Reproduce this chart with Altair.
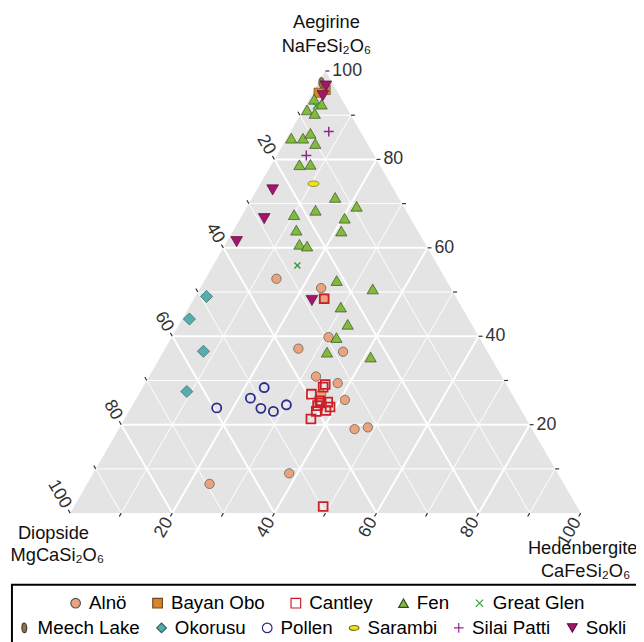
import math
import altair as alt
import pandas as pd

FONT = "Liberation Sans"
S3 = math.sqrt(3) / 2

# ---------------- data (ternary %: aegirine, hedenbergite; diopside = rest) -------------
sites = ["Alnö", "Bayan Obo", "Cantley", "Fen", "Great Glen",
         "Meech Lake", "Okorusu", "Pollen", "Sarambi", "Silai Patti", "Sokli"]

alno_aeg = [53.0, 50.9, 48.5, 39.8, 37.2, 36.5, 30.9, 29.4, 25.6, 26.9, 19.0, 19.4, 9.0, 6.6]
alno_hed = [13.9, 23.7, 25.5, 30.7, 26.1, 35.2, 32.7, 37.7, 41.0, 35.7, 46.2, 48.6, 38.4, 24.0]
bayan_aeg = [95.7, 95.1]
bayan_hed = [2.2, 1.1]
cantley_aeg = [48.5, 29.1, 28.5, 26.9, 25.4, 25.1, 24.3, 23.2, 23.0, 21.3, 24.9, 24.0, 1.5]
cantley_hed = [25.5, 35.4, 35.3, 33.8, 36.2, 37.9, 36.3, 38.5, 36.7, 36.5, 36.7, 38.9, 48.8]
fen_aeg = [93.6, 92.5, 91.2, 90.4, 84.8, 84.8, 85.9, 83.6, 78.8, 78.9, 71.4, 69.4, 68.5,
           67.5, 66.7, 64.0, 63.8, 60.8, 60.4, 52.6, 50.7, 46.6, 42.7, 39.7, 36.4, 35.3]
fen_hed = [1.0, 3.0, 0.8, 2.7, 0.9, 3.2, 4.1, 6.2, 5.5, 7.6, 16.2, 21.4, 13.8,
           10.1, 20.4, 12.3, 21.2, 14.5, 16.2, 25.9, 33.9, 29.7, 33.0, 32.3, 32.1, 41.2]
greatglen_aeg = [92.1, 56.0]
greatglen_hed = [2.1, 16.5]
meech_aeg = [97.4]
meech_hed = [0.5]
okorusu_aeg = [49.0, 43.9, 36.6, 27.5]
okorusu_hed = [2.2, 1.4, 7.8, 9.1]
pollen_aeg = [23.8, 26.0, 28.4, 23.7, 23.0, 24.5]
pollen_hed = [16.8, 22.3, 23.8, 25.5, 28.3, 30.1]
sarambi_aeg = [74.5]
sarambi_hed = [10.4]
silai_aeg = [86.3, 80.9]
silai_hed = [7.5, 5.8]
sokli_aeg = [96.6, 94.4, 73.1, 66.6, 61.4, 48.1]
sokli_hed = [1.8, 2.3, 3.1, 4.7, 1.9, 23.3]

tick_values = [20, 40, 60, 80, 100]

series = {
    "Alnö": (alno_aeg, alno_hed), "Bayan Obo": (bayan_aeg, bayan_hed),
    "Cantley": (cantley_aeg, cantley_hed), "Fen": (fen_aeg, fen_hed),
    "Great Glen": (greatglen_aeg, greatglen_hed), "Meech Lake": (meech_aeg, meech_hed),
    "Okorusu": (okorusu_aeg, okorusu_hed), "Pollen": (pollen_aeg, pollen_hed),
    "Sarambi": (sarambi_aeg, sarambi_hed), "Silai Patti": (silai_aeg, silai_hed),
    "Sokli": (sokli_aeg, sokli_hed),
}

# ---------------- styles -------------
fills = {"Alnö": "#E9A47E", "Bayan Obo": "#D9852B", "Cantley": "transparent", "Fen": "#80BB3E",
         "Great Glen": "transparent", "Meech Lake": "#8D7150", "Okorusu": "#55ADB0",
         "Pollen": "transparent", "Sarambi": "#F2E21C", "Silai Patti": "transparent",
         "Sokli": "#A3166A"}
strokes = {"Alnö": "#555555", "Bayan Obo": "#6b4a20", "Cantley": "#CC1F27", "Fen": "#3a4a20",
           "Great Glen": "#3C9A3C", "Meech Lake": "#4a3a28", "Okorusu": "#2f5f60",
           "Pollen": "#2B2A8E", "Sarambi": "#6b6a10", "Silai Patti": "#8C2A8C",
           "Sokli": "#5a0c3a"}
shapes = {"Alnö": "circle", "Bayan Obo": "square", "Cantley": "square", "Fen": "triangle-up",
          "Great Glen": "M-0.75,-0.75L0.75,0.75M-0.75,0.75L0.75,-0.75",
          "Meech Lake": "M0,-1A0.5,1,0,1,1,0,1A0.5,1,0,1,1,0,-1Z",
          "Okorusu": "diamond", "Pollen": "circle",
          "Sarambi": "M-1,0A1,0.5,0,1,1,1,0A1,0.5,0,1,1,-1,0Z",
          "Silai Patti": "M-1,0L1,0M0,-1L0,1", "Sokli": "triangle-down"}
stroke_w = {"Cantley": 1.8, "Pollen": 1.8, "Great Glen": 1.5, "Silai Patti": 1.5}
sizes = {"Alnö": 90, "Bayan Obo": 85, "Cantley": 80, "Fen": 130, "Great Glen": 65,
         "Meech Lake": 115, "Okorusu": 150, "Pollen": 85, "Sarambi": 125,
         "Silai Patti": 100, "Sokli": 140}


def chain(d, default):
    expr = str(default)
    for k, v in d.items():
        expr = f"datum.site === '{k}' ? {v} : ({expr})"
    return expr


rows = []
for s in sites:
    aa, hh = series[s]
    for a, h in zip(aa, hh):
        rows.append({"site": s, "aeg": a, "hed": h, "dio": round(100 - a - h, 1)})
df = pd.DataFrame(rows)

# ---------------- geometry / layout -------------
W, H = 636, 634
PX = 5.17          # pixels per ternary unit
OX, OY = 63, 507.5  # pixel position of the diopside corner
xs = alt.Scale(domain=[-OX / PX, (W - OX) / PX], nice=False, zero=False)
ys = alt.Scale(domain=[-(H - OY) / PX, OY / PX], nice=False, zero=False)


def tern(a, h):
    return h + a / 2.0, a * S3


def XY(fx="x", fy="y"):
    return dict(x=alt.X(f"{fx}:Q", scale=xs, axis=None), y=alt.Y(f"{fy}:Q", scale=ys, axis=None))


# triangle background
tri_pts = [tern(0, 0), tern(100, 0), tern(0, 100)]
tri_df = pd.DataFrame({"x": [p[0] for p in tri_pts], "y": [p[1] for p in tri_pts], "y0": [0, 0, 0]})
tri = alt.Chart(tri_df).mark_area(color="#E4E4E4", opacity=1, interpolate="linear").encode(
    **XY(), y2="y0:Q")

# grid lines
segs = []
for v in range(10, 100, 10):
    major = v % 20 == 0
    p1, p2 = tern(v, 0), tern(v, 100 - v)            # constant aegirine
    segs.append((p1, p2, major))
    p1, p2 = tern(0, v), tern(100 - v, v)            # constant hedenbergite
    segs.append((p1, p2, major))
    p1, p2 = tern(0, 100 - v), tern(100 - v, 0)      # constant diopside
    segs.append((p1, p2, major))
grid_df = pd.DataFrame([{"x1": a[0], "y1": a[1], "x2": b[0], "y2": b[1], "major": m} for a, b, m in segs])


def rules(data, color, width):
    return alt.Chart(data).mark_rule(color=color, strokeWidth=width).encode(
        x=alt.X("x1:Q", scale=xs, axis=None), y=alt.Y("y1:Q", scale=ys, axis=None),
        x2="x2:Q", y2="y2:Q")


grid_minor = rules(grid_df[~grid_df.major], "white", 1)
grid_major = rules(grid_df[grid_df.major], "white", 2)

# ticks
TL = 4 / PX
tk = []
for v in range(10, 101, 10):
    x, y = tern(v, 100 - v)                       # right side (aegirine)
    tk.append({"x1": x, "y1": y, "x2": x + TL, "y2": y})
    x, y = tern(100 - v, 0)                       # left side (diopside)
    tk.append({"x1": x, "y1": y, "x2": x - 0.5 * TL, "y2": y + S3 * TL})
    x, y = tern(0, v)                             # bottom (hedenbergite)
    tk.append({"x1": x, "y1": y, "x2": x - 0.5 * TL, "y2": y - S3 * TL})
ticks = rules(pd.DataFrame(tk), "#333333", 1.2)

# tick labels
LG = 7 / PX
r_lab, l_lab, b_lab = [], [], []
for v in tick_values:
    x, y = tern(v, 100 - v)
    r_lab.append({"x": x + LG, "y": y, "t": str(v)})
    x, y = tern(100 - v, 0)
    l_lab.append({"x": x - 0.5 * LG, "y": y + S3 * LG, "t": str(v)})
    x, y = tern(0, v)
    b_lab.append({"x": x - 0.5 * LG, "y": y - S3 * LG, "t": str(v)})

lab_kw = dict(font=FONT, fontSize=18, color="#333333", baseline="middle")
r_text = alt.Chart(pd.DataFrame(r_lab)).mark_text(align="left", **lab_kw).encode(**XY(), text="t:N")
l_text = alt.Chart(pd.DataFrame(l_lab)).mark_text(align="right", angle=60, **lab_kw).encode(**XY(), text="t:N")
b_text = alt.Chart(pd.DataFrame(b_lab)).mark_text(align="right", angle=300, **lab_kw).encode(**XY(), text="t:N")

# vertex titles
def vtitle(a, h, txt, dx, dy):
    x, y = tern(a, h)
    return alt.Chart(pd.DataFrame({"x": [x], "y": [y], "t": [txt]})).mark_text(
        font=FONT, fontSize=18.5, color="#111111", align="center", baseline="alphabetic",
        dx=dx, dy=dy).encode(**XY(), text="t:N")


titles = [
    vtitle(100, 0, "Aegirine", 1, -44),
    vtitle(100, 0, "NaFeSi₂O₆", 1, -19),
    vtitle(0, 0, "Diopside", -17, 26),
    vtitle(0, 0, "MgCaSi₂O₆", -13, 49),
    vtitle(0, 100, "Hedenbergite", 2, 41),
    vtitle(0, 100, "CaFeSi₂O₆", 5, 65),
]

# points with two legend rows
group1 = sites[:5]
group2 = sites[5:]
SW_EXPR = chain(stroke_w, 0.7)
SZ_EXPR = chain(sizes, 90)
LEG_SW = SW_EXPR.replace("datum.site", "datum.value")


def make_legend(cols, lx, ly, pad, enc):
    kw = dict(title=None, orient="none", legendX=lx, legendY=ly, direction="horizontal",
              columns=cols, columnPadding=pad, labelFont=FONT, labelFontSize=19,
              labelColor="#000000", symbolSize=95, labelOffset=4, symbolOpacity=1,
              padding=0, symbolStrokeWidth=1.2, labelLimit=300)
    if enc is not None:
        kw["encode"] = enc
    return alt.Legend(**kw)


def points(group, cols, lx, ly, pad, enc):
    leg = make_legend(cols, lx, ly, pad, enc)
    return alt.Chart(df).transform_filter(
        alt.FieldOneOfPredicate(field="site", oneOf=group)
    ).transform_calculate(
        x="datum.hed + datum.aeg / 2", y=f"datum.aeg * {S3}", sw=SW_EXPR, sz=SZ_EXPR
    ).mark_point(filled=True, opacity=1).encode(
        **XY(),
        fill=alt.Fill("site:N", scale=alt.Scale(domain=group, range=[fills[s] for s in group]), legend=leg),
        stroke=alt.Stroke("site:N", scale=alt.Scale(domain=group, range=[strokes[s] for s in group]), legend=leg),
        shape=alt.Shape("site:N", scale=alt.Scale(domain=group, range=[shapes[s] for s in group]), legend=leg),
        strokeWidth=alt.StrokeWidth("sw:Q", scale=None),
        size=alt.Size("sz:Q", scale=None),
        tooltip=["site:N", "aeg:Q", "hed:Q", "dio:Q"],
    )


box = alt.Chart(pd.DataFrame({"k": [0]})).mark_rect(
    fill="transparent", stroke="#000000", strokeWidth=2).encode(
    x=alt.value(4), x2=alt.value(660), y=alt.value(580), y2=alt.value(660))


def build(enc):
    layers = [tri, grid_minor, grid_major, ticks, r_text, l_text, b_text] + titles + [
        points(group1, 5, 59, 589, 21, enc),
        points(group2, 6, 7, 614, 12, enc),
        box,
    ]
    ch = alt.layer(*layers).resolve_scale(
        fill="independent", stroke="independent", shape="independent"
    ).properties(
        width=W, height=H, autosize=alt.AutoSizeParams(type="none"), padding=0
    ).configure_view(stroke=None)
    return ch


chart = None
for enc in [
    {"symbols": {"strokeWidth": {"signal": LEG_SW}}},
    {"symbols": {"update": {"strokeWidth": {"signal": LEG_SW}}}},
    None,
]:
    try:
        c = build(enc)
        c.to_dict()
        chart = c
        break
    except Exception:
        continue

chart.save("out.html", embed_options={"renderer": "svg", "actions": False})
